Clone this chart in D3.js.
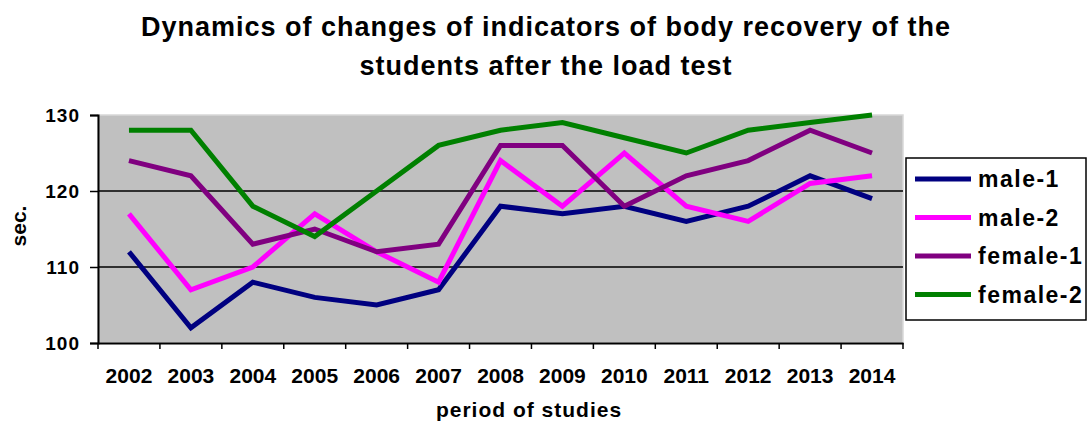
<!DOCTYPE html>
<html><head><meta charset="utf-8">
<script src="https://cdn.jsdelivr.net/npm/d3@7"></script>
<style>body{margin:0;background:#fff}svg{display:block;font-family:"Liberation Sans",Arial,sans-serif;font-weight:bold}</style>
</head><body><svg id="c" width="1091" height="423"></svg>
<script>
const years = ["2002","2003","2004","2005","2006","2007","2008","2009","2010","2011","2012","2013","2014"];
const male1   = [112,102,108,106,105,107,118,117,118,116,118,122,119];
const male2   = [117,107,110,117,112,108,124,118,125,118,116,121,122];
const female1 = [124,122,113,115,112,113,126,126,118,122,124,128,125];
const female2 = [128,128,118,114,120,126,128,129,127,125,128,129,130];
const seriesNames = ["male-1","male-2","female-1","female-2"];
const seriesColors = ["#000080","#FF00FF","#800080","#008000"];
const yTicks = [100,110,120,130];
const titleLines = ["Dynamics of changes of indicators of body recovery of the","students after the load test"];
const series = [male1,male2,female1,female2];

const FF = "Liberation Sans, Arial, sans-serif";
const svg = d3.select("#c");
const L=98,R=903,T=115,B=343;
const x = d3.scaleBand().domain(years).range([L,R]);
const y = d3.scaleLinear().domain([100,130]).range([B,T]);

svg.append("rect").attr("x",L).attr("y",T).attr("width",R-L).attr("height",B-T)
  .attr("fill","#C0C0C0").attr("stroke","#d8d8d8").attr("stroke-width",1.5);

// gridlines
svg.append("g").selectAll("line").data(yTicks.filter(d=>d>100&&d<130)).join("line")
  .attr("x1",L).attr("x2",R).attr("y1",d=>y(d)).attr("y2",d=>y(d))
  .attr("stroke","#000").attr("stroke-width",1.5);

// y axis
const ya = svg.append("g").attr("transform",`translate(${L},0)`)
  .call(d3.axisLeft(y).tickValues(yTicks).tickSize(8).tickPadding(10));
ya.select(".domain").attr("stroke","#000").attr("stroke-width",2);
ya.selectAll(".tick line").attr("stroke","#000").attr("stroke-width",1.5);
ya.selectAll("text").attr("font-size",19).attr("font-weight","bold").attr("fill","#000")
  .attr("font-family",FF).attr("letter-spacing",1).attr("dy","0.35em");

// x axis
const xa = svg.append("g").attr("transform",`translate(0,${B})`)
  .call(d3.axisBottom(x).tickSize(0).tickPadding(25));
xa.select(".domain").attr("stroke","#000").attr("stroke-width",2);
xa.selectAll("text").attr("font-size",21).attr("font-weight","bold").attr("fill","#000")
  .attr("font-family",FF).attr("dy","0.71em");
const bounds = years.map(d=>x(d)).concat([R]);
svg.append("g").selectAll("line").data(bounds).join("line")
  .attr("x1",d=>d).attr("x2",d=>d).attr("y1",B).attr("y2",B+6)
  .attr("stroke","#000").attr("stroke-width",1.5);

// lines
const line = d3.line().x((d,i)=>x(years[i])+x.bandwidth()/2).y(d=>y(d));
svg.append("g").selectAll("path").data(series).join("path")
  .attr("d",line).attr("fill","none").attr("stroke",(d,i)=>seriesColors[i])
  .attr("stroke-width",5).attr("stroke-linejoin","miter");

// title
svg.append("g").selectAll("text").data(titleLines).join("text")
  .attr("x",546).attr("y",(d,i)=>36+i*39).attr("text-anchor","middle")
  .attr("font-size",27).attr("letter-spacing",1).attr("fill","#000").text(d=>d);

// axis titles
svg.append("text").attr("transform","translate(26,226) rotate(-90)")
  .attr("text-anchor","middle").attr("font-size",21).text("sec.");
svg.append("text").attr("x",529).attr("y",417).attr("text-anchor","middle")
  .attr("font-size",21).attr("letter-spacing",1).text("period of studies");

// legend
const lg = svg.append("g");
lg.append("rect").attr("x",906).attr("y",158).attr("width",180).attr("height",162)
  .attr("fill","#fff").attr("stroke","#000").attr("stroke-width",1.5);
const items = lg.selectAll("g").data(seriesNames).join("g")
  .attr("transform",(d,i)=>`translate(0,${179+i*38.5})`);
items.append("line").attr("x1",915).attr("x2",971).attr("y1",0).attr("y2",0)
  .attr("stroke",(d,i)=>seriesColors[i]).attr("stroke-width",5);
items.append("text").attr("x",978).attr("y",0).attr("dy","0.35em")
  .attr("font-size",23).attr("letter-spacing",1.5).text(d=>d);
</script></body></html>
